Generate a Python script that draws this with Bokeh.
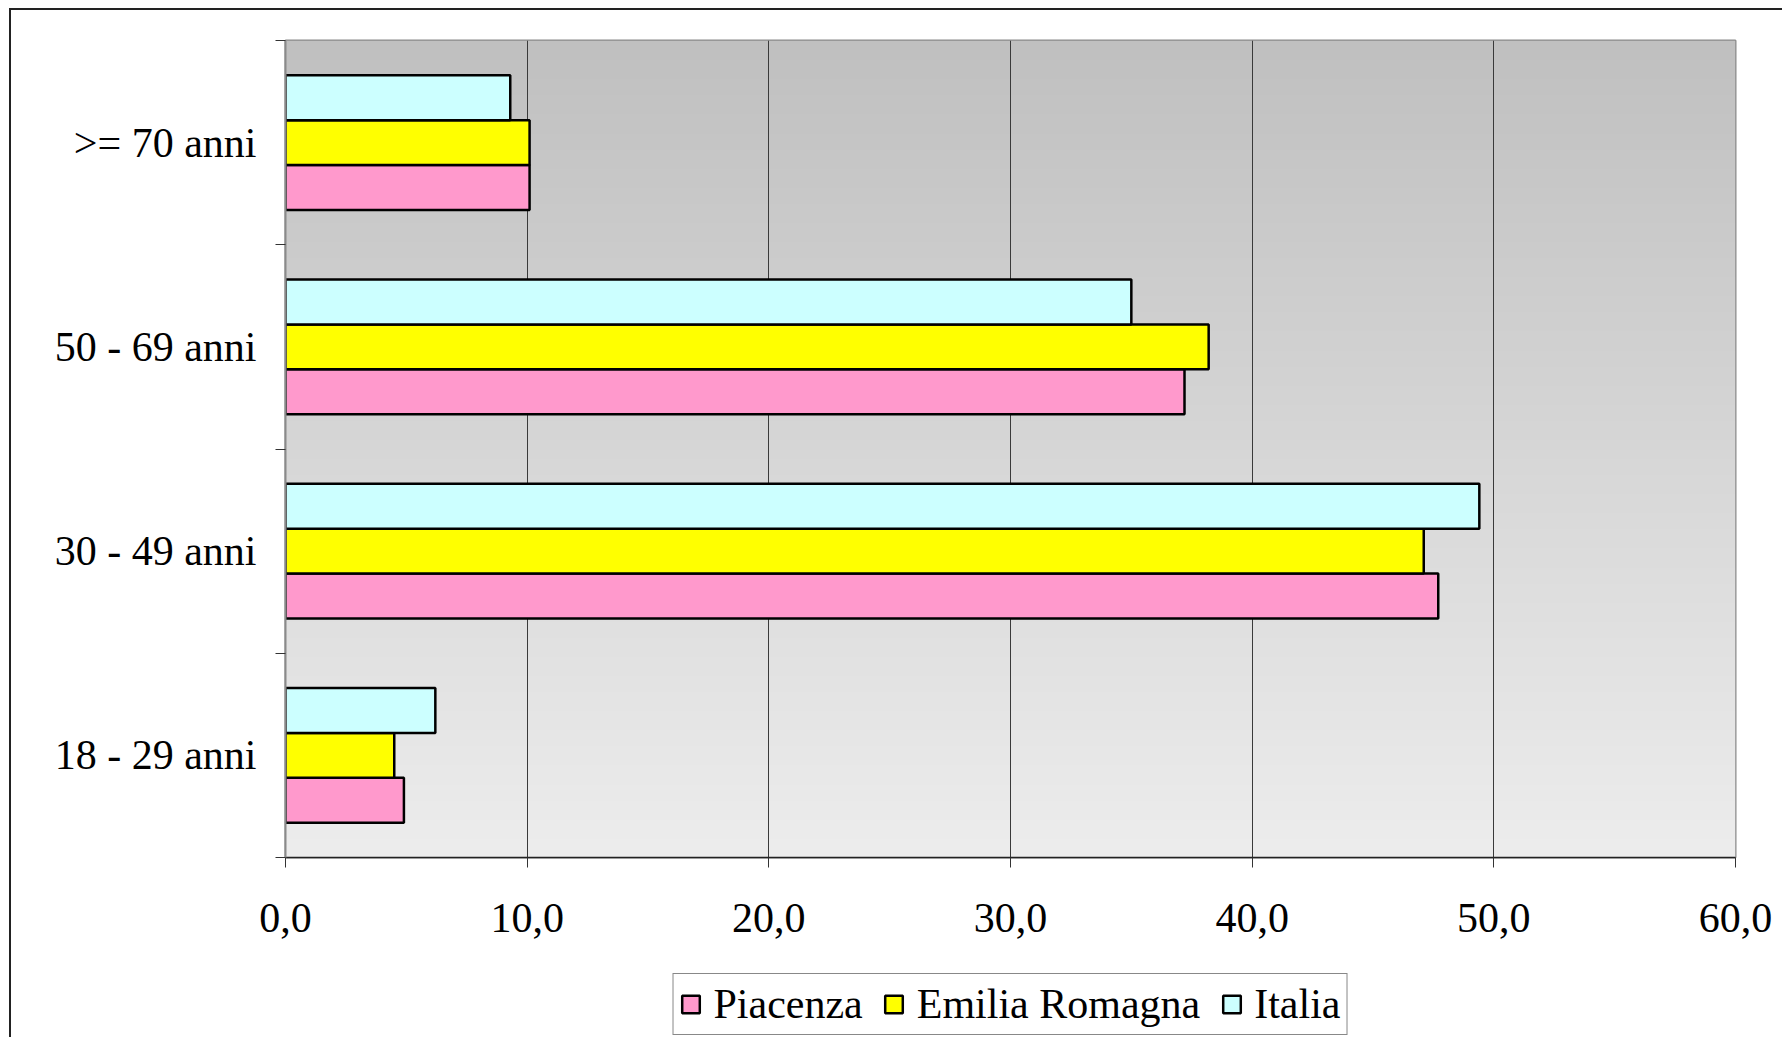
import numpy as np
from bokeh.plotting import figure
from bokeh.layouts import column
from bokeh.models import Range1d, FixedTicker, ColumnDataSource, Legend, LegendItem
from bokeh.transform import dodge
from bokeh.embed import file_html
from bokeh.resources import INLINE

# ---- data ----
categories = ["18 - 29 anni", "30 - 49 anni", "50 - 69 anni", ">= 70 anni"]
piacenza = [4.9, 47.7, 37.2, 10.1]
emilia_romagna = [4.5, 47.1, 38.2, 10.1]
italia = [6.2, 49.4, 35.0, 9.3]
series_names = ["Piacenza", "Emilia Romagna", "Italia"]
series_colors = ["#FF99CC", "#FFFF00", "#CCFFFF"]
x_ticks = [0, 10, 20, 30, 40, 50, 60]
x_tick_labels = ["0,0", "10,0", "20,0", "30,0", "40,0", "50,0", "60,0"]

FONT = "Liberation Serif"
FSIZE = "42px"
n_cat = len(categories)
centers = [i + 0.5 for i in range(n_cat)]

source = ColumnDataSource(dict(
    pos=centers,
    cat=categories,
    piacenza=piacenza,
    emilia=emilia_romagna,
    italia=italia,
))

p = figure(
    width=1771, height=959,
    x_range=Range1d(0, 60), y_range=Range1d(0, n_cat),
    output_backend="svg", toolbar_location=None,
    min_border_left=274, min_border_top=30, min_border_right=47, min_border_bottom=112,
    background_fill_color="white", border_fill_color="white",
)

# gradient background of plot area
nrows = 256
t = np.linspace(0, 1, nrows)  # 0 bottom -> 1 top
g = (237 - (237 - 192) * t).astype(np.uint8)
img = np.zeros((nrows, 2), dtype=np.uint32)
view = img.view(dtype=np.uint8).reshape((nrows, 2, 4))
view[:, :, 0] = g[:, None]
view[:, :, 1] = g[:, None]
view[:, :, 2] = g[:, None]
view[:, :, 3] = 255
p.image_rgba(image=[img], x=0, y=0, dw=60, dh=n_cat, level="image")

# bars
bh = 0.22
fields = ["piacenza", "emilia", "italia"]
offsets = [-bh, 0.0, bh]
for f, off, col in zip(fields, offsets, series_colors):
    p.hbar(y=dodge("pos", off, range=p.y_range), right=f, left=0, height=bh,
           source=source, fill_color=col, line_color="black", line_width=2.5)

# grid
p.xgrid.ticker = FixedTicker(ticks=x_ticks)
p.xgrid.grid_line_color = "#3a3a3a"
p.xgrid.grid_line_width = 1
p.ygrid.grid_line_color = None
p.outline_line_color = "#8a8a8a"
p.outline_line_width = 2

# x axis
p.xaxis.ticker = FixedTicker(ticks=x_ticks)
p.xaxis.major_label_overrides = {v: s for v, s in zip(x_ticks, x_tick_labels)}
p.xaxis.major_label_text_font = FONT
p.xaxis.major_label_text_font_size = FSIZE
p.xaxis.major_label_text_color = "black"
p.xaxis.major_tick_out = 10
p.xaxis.major_tick_in = 0
p.xaxis.minor_tick_line_color = None
p.xaxis.major_label_standoff = 36
p.xaxis.axis_line_color = "#222222"
p.xaxis.axis_line_width = 1.5
p.xaxis.major_tick_line_color = "#333333"

# y axis: labels at category centers, ticks at category boundaries
p.yaxis.ticker = FixedTicker(ticks=centers, minor_ticks=list(range(n_cat + 1)))
p.yaxis.major_label_overrides = {c: lab for c, lab in zip(centers, categories)}
p.yaxis.major_label_text_font = FONT
p.yaxis.major_label_text_font_size = FSIZE
p.yaxis.major_label_text_color = "black"
p.yaxis.major_tick_line_color = None
p.yaxis.major_tick_out = 0
p.yaxis.major_tick_in = 0
p.yaxis.minor_tick_out = 10
p.yaxis.minor_tick_in = 0
p.yaxis.minor_tick_line_color = "#333333"
p.yaxis.major_label_standoff = 19
p.yaxis.axis_line_color = "#8a8a8a"
p.yaxis.axis_line_width = 2

# ---- legend strip (separate figure, same series styles) ----
lp = figure(
    width=1771, height=68,
    x_range=Range1d(0, 1), y_range=Range1d(0, 1),
    output_backend="svg", toolbar_location=None,
    x_axis_type=None, y_axis_type=None,
    min_border=0, outline_line_color=None,
    background_fill_color="white", border_fill_color="white",
)
lp.grid.visible = False
# tiny swatch bars, hidden behind the opaque legend box; they only feed the legend
swatch = ColumnDataSource(dict(y=[0.5], left=[0.5], right=[0.501]))
legend_renderers = []
for col in series_colors:
    r = lp.hbar(y="y", right="right", left="left", height=0.05, source=swatch,
                fill_color=col, line_color="black", line_width=2.5)
    legend_renderers.append(r)

legend = Legend(
    items=[LegendItem(label=n, renderers=[r]) for n, r in zip(series_names, legend_renderers)],
    orientation="horizontal", location="bottom_center",
    label_text_font=FONT, label_text_font_size=FSIZE, label_text_color="black",
    glyph_width=22, glyph_height=22, label_standoff=12, spacing=20,
    padding=6, margin=2,
    border_line_color="#111111", border_line_width=1.5,
    background_fill_color="white", background_fill_alpha=1,
)
lp.add_layout(legend, "center")

layout = column(p, lp, spacing=0,
                styles={"border-left": "2px solid #222222", "border-top": "2px solid #222222",
                        "margin-left": "9px", "margin-top": "8px"})

open("out.html", "w").write(file_html(layout, INLINE))
